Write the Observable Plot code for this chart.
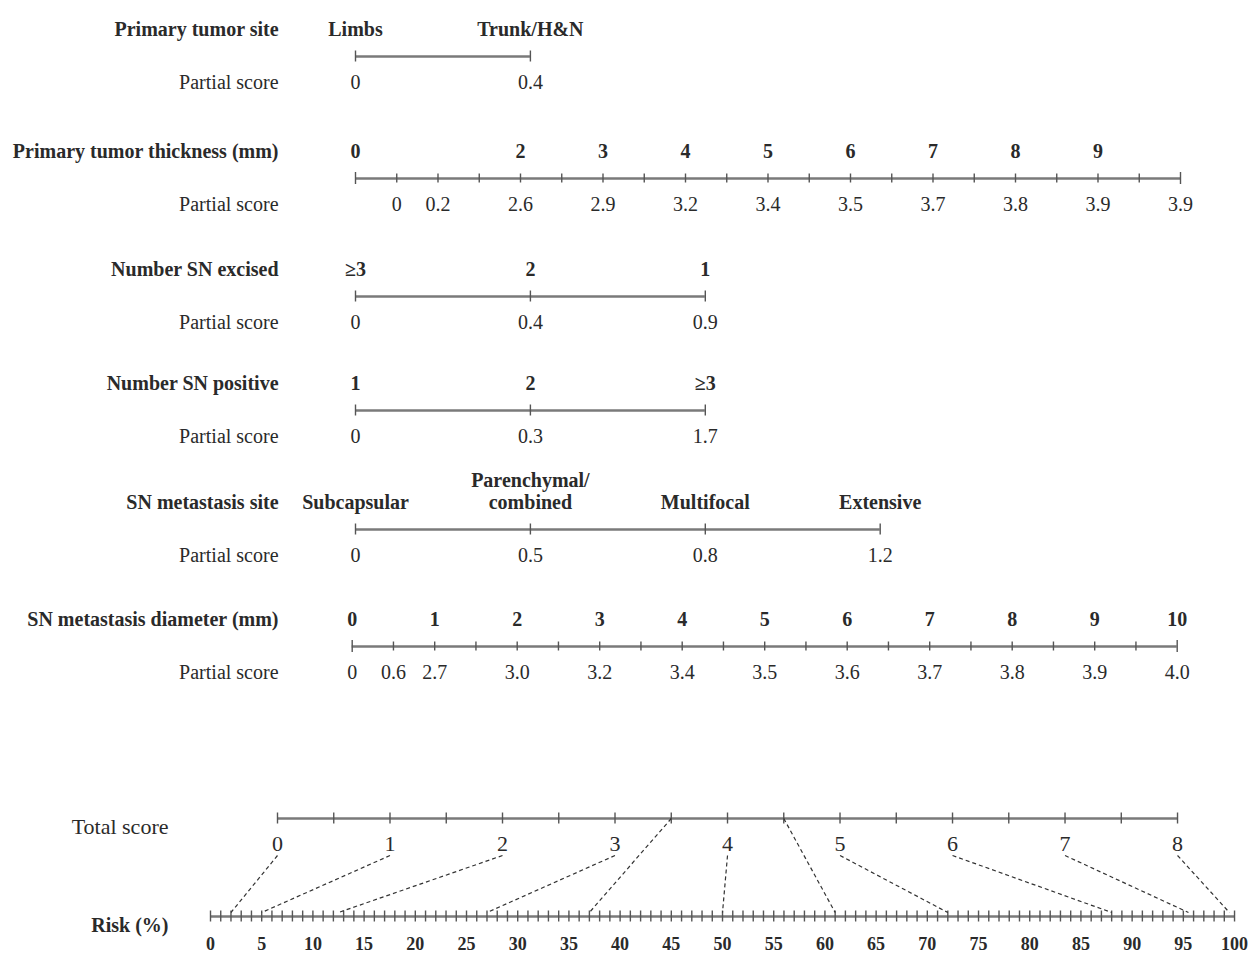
<!DOCTYPE html>
<html><head><meta charset="utf-8">
<script src="https://cdn.jsdelivr.net/npm/d3@7"></script>
<script src="https://cdn.jsdelivr.net/npm/@observablehq/plot@0.6"></script>
<style>
body{margin:0;background:#fff;}
#chart{width:1254px;height:954px;}
</style>
</head><body><div id="chart"></div>
<script>
// ---------- Data ----------
const siteCategories = ["Limbs", "Trunk/H&N"];
const siteScores = ["0", "0.4"];

const thicknessLabelValues = [0, 2, 3, 4, 5, 6, 7, 8, 9];
const thicknessScoreAt = [0.5, 1, 2, 3, 4, 5, 6, 7, 8, 9, 10];
const thicknessScores = ["0", "0.2", "2.6", "2.9", "3.2", "3.4", "3.5", "3.7", "3.8", "3.9", "3.9"];

const excisedCategories = ["≥3", "2", "1"];
const excisedScores = ["0", "0.4", "0.9"];

const positiveCategories = ["1", "2", "≥3"];
const positiveScores = ["0", "0.3", "1.7"];

const metSiteCategories = ["Subcapsular", "Parenchymal/\ncombined", "Multifocal", "Extensive"];
const metSiteScores = ["0", "0.5", "0.8", "1.2"];

const diameterLabelValues = [0, 1, 2, 3, 4, 5, 6, 7, 8, 9, 10];
const diameterScoreAt = [0, 0.5, 1, 2, 3, 4, 5, 6, 7, 8, 9, 10];
const diameterScores = ["0", "0.6", "2.7", "3.0", "3.2", "3.4", "3.5", "3.6", "3.7", "3.8", "3.9", "4.0"];

const totalScoreLabels = [0, 1, 2, 3, 4, 5, 6, 7, 8];
const riskLabels = [0, 5, 10, 15, 20, 25, 30, 35, 40, 45, 50, 55, 60, 65, 70, 75, 80, 85, 90, 95, 100];

// dashed connectors: total score -> risk (%)
const connectScore = [0, 1, 2, 3, 3.5, 4, 4.5, 5, 6, 7, 8];
const connectRisk  = [2, 5, 12.5, 27, 37, 50, 61, 72, 88, 95.5, 99.5];

// ---------- Layout ----------
const FONT = "Liberation Serif, Times New Roman, serif";
const INK = "#2a2a2a";
const AXIS = "#7a7a7a";
const catStep = 2.12;          // spacing of categorical levels on the common scale
const labelX = -0.933;         // right edge of the row labels
const sideLabelX = -2.267;     // right edge of "Total score" / "Risk (%)"
const blocks = {site: 29, thick: 151, excised: 269, positive: 383, metsite: 502, diam: 619};
const AX = 27, PS = 53;        // axis and partial-score offsets in a block
const totalY = 818, totalLabY = 843, riskY = 916, riskLabY = 944;
const scoreX = d3.scaleLinear([0, 8], [-0.9455, 9.964]);
const riskX = d3.scaleLinear([0, 100], [-1.7576, 10.655]);

const marks = [];
const textBase = {fontFamily: FONT, fill: INK, fontSize: 20};

function axisLine(y, x1, x2) {
  marks.push(Plot.ruleY([{y, x1, x2}], {y: "y", x1: "x1", x2: "x2", stroke: AXIS, strokeWidth: 2.6}));
}
function ticks(y, xs, heightFn) {
  marks.push(Plot.ruleX(xs.map(x => ({x, h: heightFn(x)})), {
    x: "x", y1: d => y - d.h, y2: d => y + d.h, stroke: "#555", strokeWidth: 1.4
  }));
}
function rowLabels(name, y) {
  marks.push(Plot.text([name], {x: () => labelX, y: () => y, text: d => d, textAnchor: "end",
    ...textBase, fontWeight: "bold", lineAnchor: "bottom", dy: 6}));
  marks.push(Plot.text(["Partial score"], {x: () => labelX, y: () => y + PS, text: d => d, textAnchor: "end",
    ...textBase, lineAnchor: "bottom", dy: 6}));
}
function categoricalRow(name, y, cats, scores) {
  rowLabels(name, y);
  const pos = cats.map((c, i) => i * catStep);
  axisLine(y + AX, pos[0], pos[pos.length - 1]);
  ticks(y + AX, pos, () => 5.5);
  marks.push(Plot.text(cats.map((c, i) => ({c, x: pos[i]})), {x: "x", y: () => y, text: "c",
    ...textBase, fontWeight: "bold", lineAnchor: "bottom", lineHeight: 1.1, dy: 6}));
  marks.push(Plot.text(scores.map((s, i) => ({s, x: pos[i]})), {x: "x", y: () => y + PS, text: "s",
    ...textBase, lineAnchor: "bottom", dy: 6}));
}
function continuousRow(name, y, off, labelVals, scoreAt, scores) {
  rowLabels(name, y);
  axisLine(y + AX, off + 0, off + 10);
  ticks(y + AX, d3.range(0, 10.01, 0.5).map(v => off + v), x => (Math.abs(x - off) < 1e-6 || Math.abs(x - off - 10) < 1e-6) ? 6 : 4.5);
  marks.push(Plot.text(labelVals.map(v => ({v, x: off + v})), {x: "x", y: () => y, text: d => String(d.v),
    ...textBase, fontWeight: "bold", lineAnchor: "bottom", dy: 6}));
  marks.push(Plot.text(scores.map((s, i) => ({s, x: off + scoreAt[i]})), {x: "x", y: () => y + PS, text: "s",
    ...textBase, lineAnchor: "bottom", dy: 6}));
}

categoricalRow("Primary tumor site", blocks.site, siteCategories, siteScores);
continuousRow("Primary tumor thickness (mm)", blocks.thick, 0, thicknessLabelValues, thicknessScoreAt, thicknessScores);
categoricalRow("Number SN excised", blocks.excised, excisedCategories, excisedScores);
categoricalRow("Number SN positive", blocks.positive, positiveCategories, positiveScores);
categoricalRow("SN metastasis site", blocks.metsite, metSiteCategories, metSiteScores);
continuousRow("SN metastasis diameter (mm)", blocks.diam, -0.04, diameterLabelValues, diameterScoreAt, diameterScores);

// Total score axis
axisLine(totalY, scoreX(0), scoreX(8));
ticks(totalY, d3.range(0, 8.01, 0.5).map(scoreX), () => 5.5);
marks.push(Plot.text(["Total score"], {x: () => sideLabelX, y: () => totalY + 8, text: d => d, textAnchor: "end",
  ...textBase, fontSize: 22, lineAnchor: "middle"}));
marks.push(Plot.text(totalScoreLabels, {x: d => scoreX(d), y: () => totalLabY, text: d => String(d),
  ...textBase, fontSize: 22, lineAnchor: "middle"}));

// Risk axis
axisLine(riskY, riskX(0), riskX(100));
ticks(riskY, d3.range(0, 100.01, 1).map(riskX), x => 5.5);
marks.push(Plot.text(["Risk (%)"], {x: () => sideLabelX, y: () => riskY + 9, text: d => d, textAnchor: "end",
  ...textBase, fontWeight: "bold", lineAnchor: "middle"}));
marks.push(Plot.text(riskLabels, {x: d => riskX(d), y: () => riskLabY, text: d => String(d),
  ...textBase, fontSize: 18, fontWeight: "bold", lineAnchor: "middle"}));

// Connectors
const links = connectScore.map((s, i) => ({s, r: connectRisk[i], onAxis: !Number.isInteger(s)}));
marks.push(Plot.link(links, {
  x1: d => scoreX(d.s), y1: d => d.onAxis ? totalY : totalLabY + 12,
  x2: d => riskX(d.r), y2: () => riskY - 4,
  stroke: "#333", strokeWidth: 1.2, strokeDasharray: "4,3"
}));

const chart = Plot.plot({
  width: 1254, height: 954,
  marginLeft: 355, marginRight: 74, marginTop: 0, marginBottom: 0,
  x: {domain: [0, 10], axis: null},
  y: {domain: [0, 954], range: [0, 954], axis: null},
  style: {background: "#fff", overflow: "visible"},
  marks
});
document.getElementById("chart").appendChild(chart);
</script>
</body></html>
